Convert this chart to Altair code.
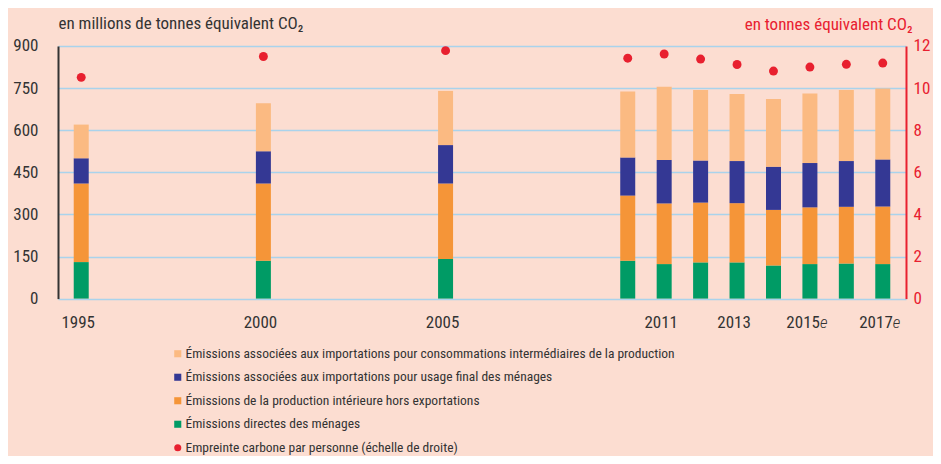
import altair as alt
import pandas as pd

years = [1995, 2000, 2005, 2010, 2011, 2012, 2013, 2014, 2015, 2016, 2017]
green = [130, 135, 141, 135, 123, 129, 129, 118, 123, 125, 123]
orange = [280, 275, 269, 232, 216, 213, 211, 198, 202, 202, 205]
blue = [90, 115, 137, 136, 155, 150, 150, 154, 158, 163, 168]
light = [120, 171, 193, 235, 261, 251, 239, 241, 248, 253, 253]
per_capita = [10.51, 11.50, 11.78, 11.42, 11.62, 11.38, 11.12, 10.81, 11.00, 11.13, 11.19]

series_names = [
    "Émissions associées aux importations pour consommations intermédiaires de la production",
    "Émissions associées aux importations pour usage final des ménages",
    "Émissions de la production intérieure hors exportations",
    "Émissions directes des ménages",
    "Empreinte carbone par personne (échelle de droite)",
]
series_colors = ["#FBBA82", "#343894", "#F59538", "#009B65", "#E8202F"]
series_shapes = ["square", "square", "square", "square", "circle"]

label_years = [1995, 2000, 2005, 2011, 2013, 2015, 2017]
label_text = ["1995", "2000", "2005", "2011", "2013", "2015", "2017"]
label_est = [False, False, False, False, False, True, True]

FONT = "Roboto Condensed, Liberation Sans Narrow, Roboto, sans-serif"
FW = 400
W, H = 848, 252.6
BG = "#FCDDD1"
RED = "#E8202F"
TXT = "#333333"

rows = []
stack_series = [(series_names[3], green, 0), (series_names[2], orange, 1),
                (series_names[1], blue, 2), (series_names[0], light, 3)]
for name, vals, o in stack_series:
    for y, v in zip(years, vals):
        rows.append({"year": y, "series": name, "value": v, "ord": o})
bars_df = pd.DataFrame(rows)
dots_df = pd.DataFrame({"year": years, "pc": per_capita, "series": series_names[4]})
lab_df = pd.DataFrame({"year": label_years, "label": label_text, "est": label_est})

xscale = alt.Scale(domain=[1994.5, 2017.5], nice=False, zero=False)
xaxis = alt.Axis(labels=False, ticks=False, title=None, grid=False,
                 domainColor="#333333", domainWidth=2)

color = alt.Color("series:N", sort=series_names,
                  scale=alt.Scale(domain=series_names, range=series_colors),
                  legend=alt.Legend(title=None, orient="none", legendX=113, legendY=301,
                                    direction="vertical", labelFont=FONT, labelFontSize=13.5,
                                    labelFontWeight=FW,
                                    labelColor=TXT, labelLimit=700, symbolSize=50,
                                    rowPadding=8.5, labelOffset=1, symbolStrokeWidth=0))

bars = alt.Chart(bars_df).mark_bar(size=15).encode(
    x=alt.X("year:Q", scale=xscale, axis=xaxis),
    y=alt.Y("value:Q", stack="zero",
            scale=alt.Scale(domain=[0, 900], nice=False),
            axis=alt.Axis(values=[0, 150, 300, 450, 600, 750, 900], ticks=False,
                          domainColor="#333333", domainWidth=2, gridColor="#A9D3EC",
                          gridWidth=1.3, labelFont=FONT, labelFontSize=17, labelColor=TXT,
                          labelFontWeight=FW, labelPadding=20,
                          title="en millions de tonnes équivalent CO₂", titleAngle=0,
                          titleAlign="left", titleBaseline="middle", titleX=0, titleY=-22,
                          titleFont=FONT, titleFontSize=17, titleFontWeight=FW,
                          titleColor=TXT)),
    color=color,
    order=alt.Order("ord:Q"),
)

dots = alt.Chart(dots_df).mark_point(filled=True, size=80, opacity=1).encode(
    x=alt.X("year:Q", scale=xscale, axis=None),
    y=alt.Y("pc:Q", scale=alt.Scale(domain=[0, 12], nice=False),
            axis=alt.Axis(orient="right", values=[0, 2, 4, 6, 8, 10, 12], ticks=False,
                          grid=False, domainColor=RED, domainWidth=2, labelFont=FONT,
                          labelFontSize=17, labelColor=RED, labelPadding=7,
                          labelFontWeight=FW,
                          title="en tonnes équivalent CO₂", titleAngle=0,
                          titleAlign="right", titleBaseline="middle", titleX=6, titleY=-21,
                          titleFont=FONT, titleFontSize=17, titleFontWeight=FW,
                          titleColor=RED)),
    color=alt.Color("series:N", sort=series_names,
                    scale=alt.Scale(domain=series_names, range=series_colors)),
    shape=alt.Shape("series:N", sort=series_names,
                    scale=alt.Scale(domain=series_names, range=series_shapes)),
)

lab_plain = alt.Chart(lab_df).transform_filter("!datum.est").mark_text(
    font=FONT, fontSize=17, fontWeight=FW, color=TXT, dx=-3, baseline="middle").encode(
    x=alt.X("year:Q", scale=xscale, axis=None),
    y=alt.value(H + 24),
    text="label:N",
)
lab_est = alt.Chart(lab_df).transform_filter("datum.est").mark_text(
    font=FONT, fontSize=17, fontWeight=FW, color=TXT, dx=10, align="right",
    baseline="middle").encode(
    x=alt.X("year:Q", scale=xscale, axis=None),
    y=alt.value(H + 24),
    text="label:N",
)
lab_e = alt.Chart(lab_df).transform_filter("datum.est").mark_text(
    font=FONT, fontSize=17, fontWeight=300, color=TXT, dx=10, align="left",
    baseline="middle", fontStyle="italic").encode(
    x=alt.X("year:Q", scale=xscale, axis=None),
    y=alt.value(H + 24),
    text=alt.value("e"),
)

chart = alt.layer(bars, dots, lab_plain, lab_est, lab_e).resolve_scale(
    y="independent"
).properties(
    width=W, height=H,
    background=BG,
    autosize=alt.AutoSizeParams(type="none"),
    padding={"left": 50, "top": 38, "right": 27, "bottom": 157},
).configure_view(stroke=None)

chart.save("out.html", embed_options={"renderer": "svg", "actions": False})
